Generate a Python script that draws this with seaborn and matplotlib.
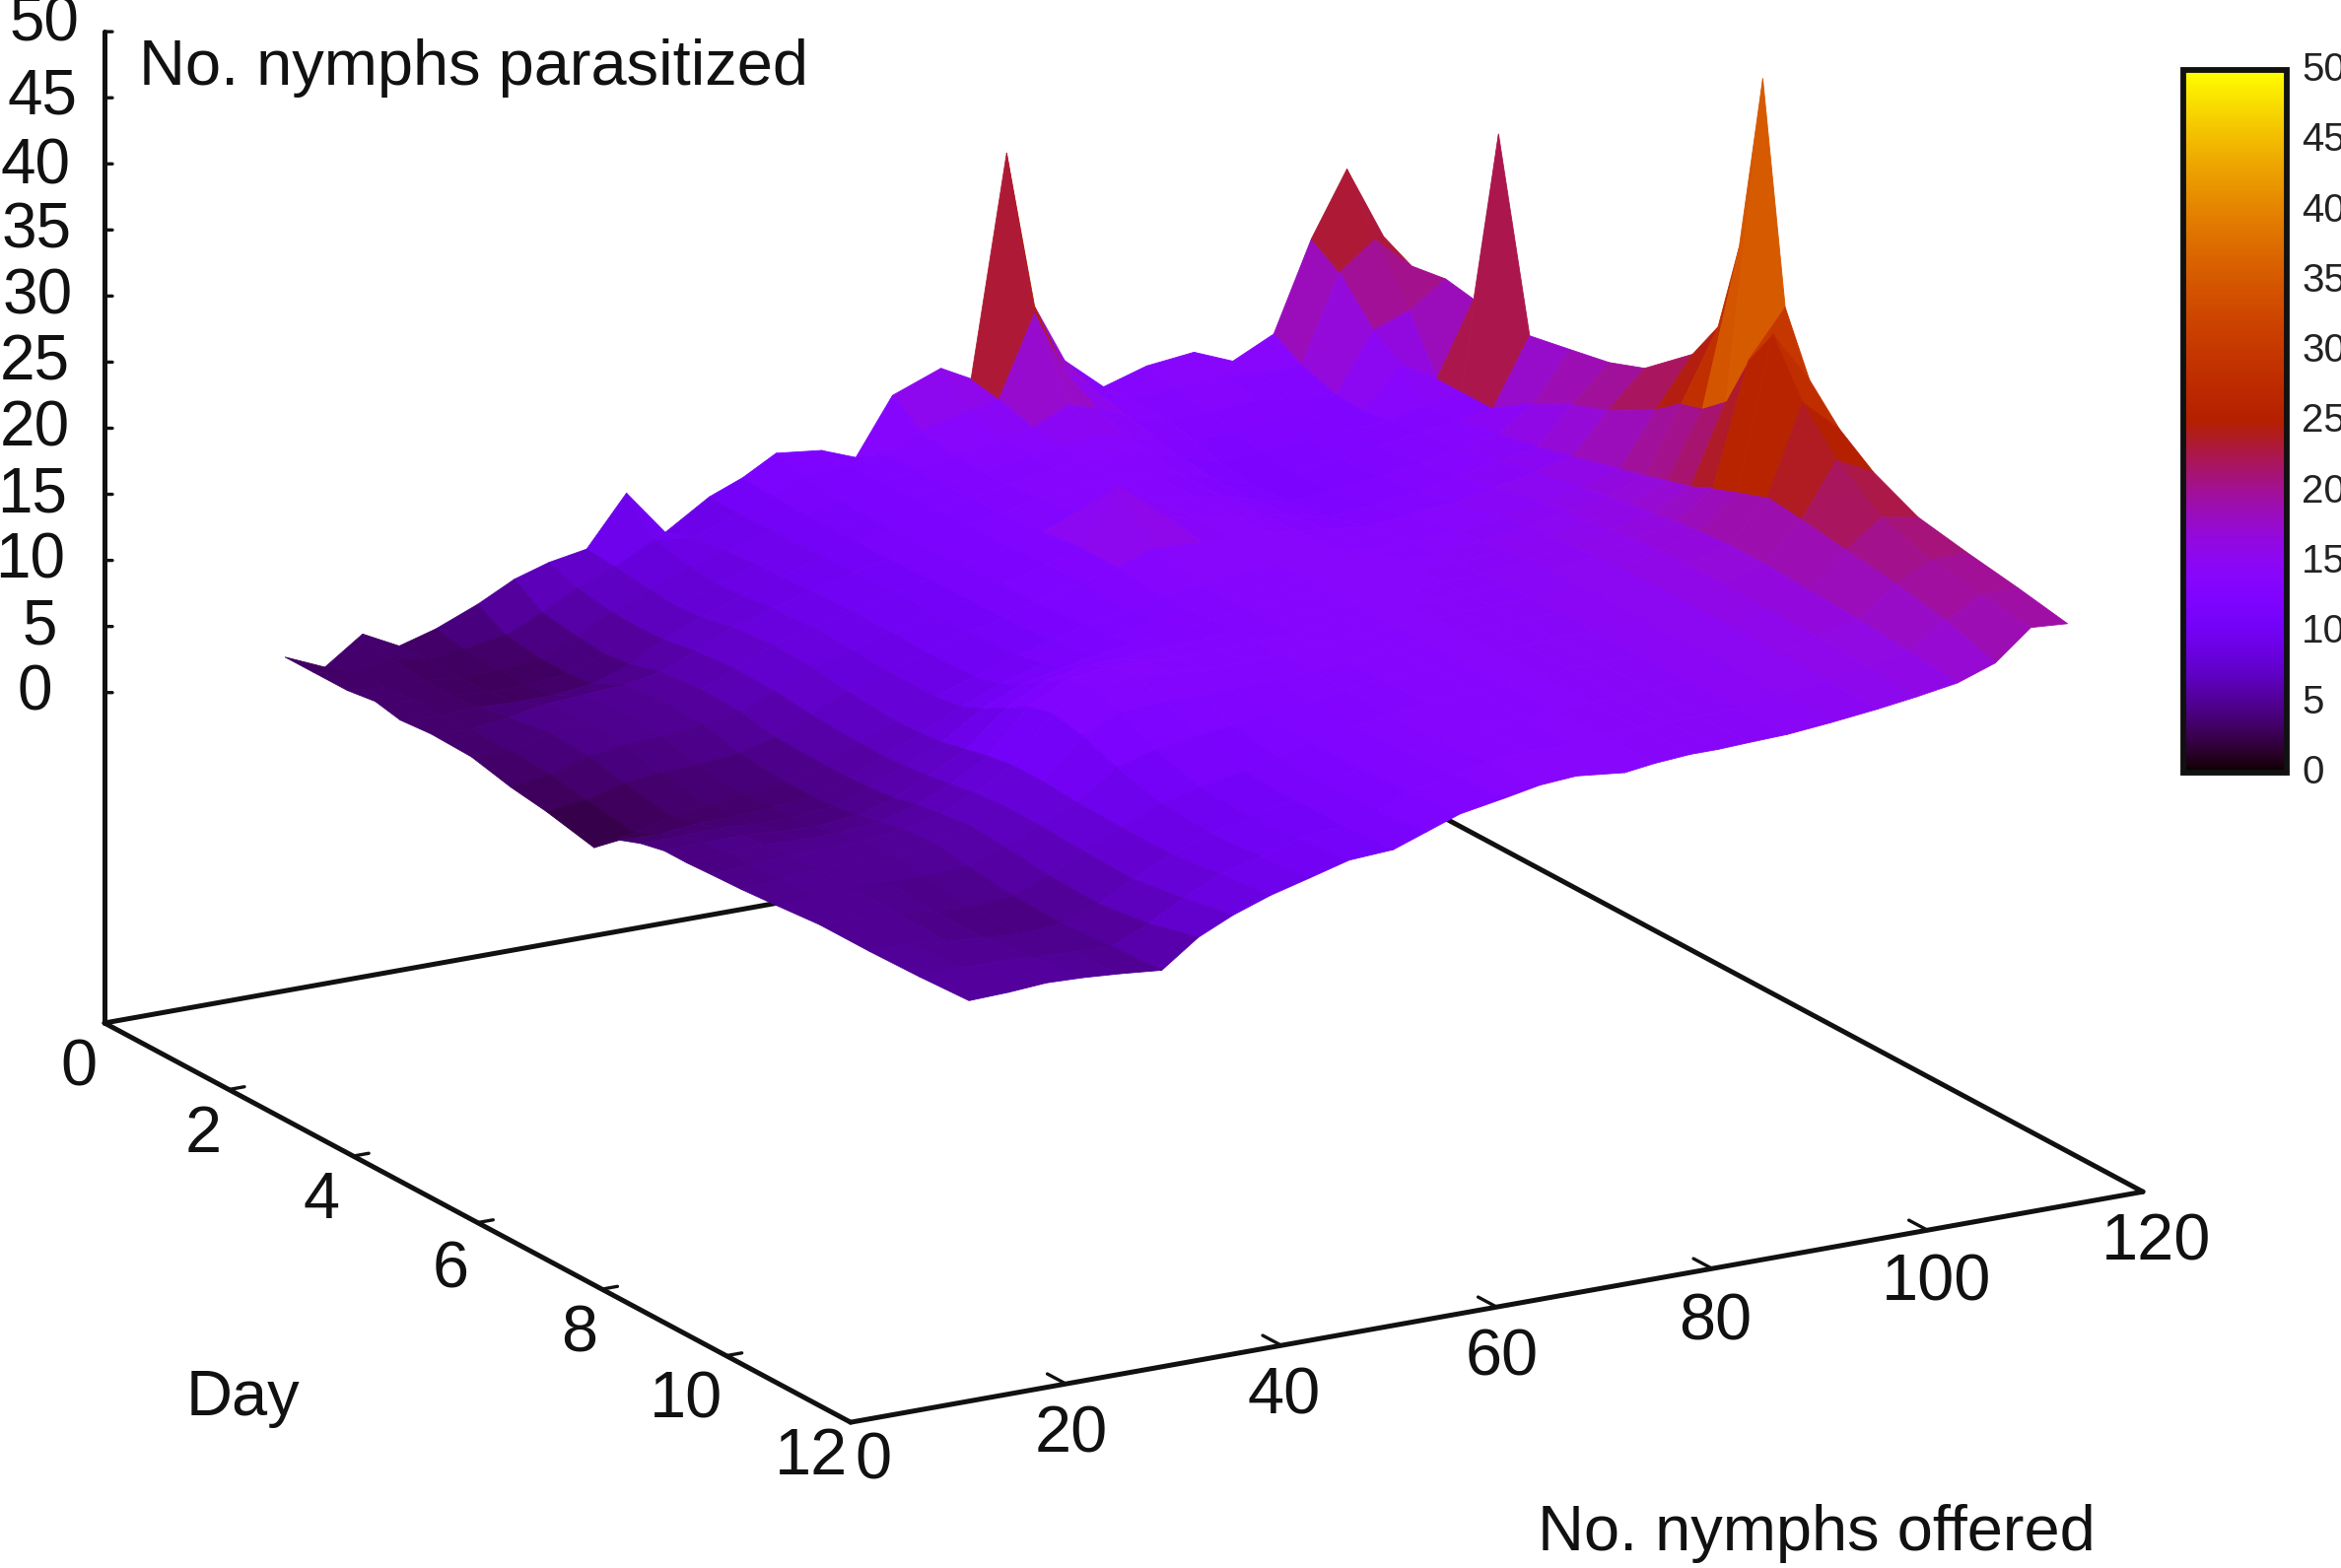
import numpy as np
import matplotlib
matplotlib.use("Agg")
import matplotlib.pyplot as plt
import seaborn as sns
from matplotlib.cm import ScalarMappable
from matplotlib.colors import Normalize
from mpl_toolkits.mplot3d import proj3d

# ---------- data ----------
offered = [11, 14.7, 18.2, 21.6, 25, 28.9, 32.3, 35.5, 39, 42.7, 46.3, 50.4, 53.5, 56.6, 60.8, 64,
           67.4, 71.9, 74.7, 78, 80.6, 83.4, 87, 91, 95.4, 99, 102.8, 106.3, 109.6, 113]
days = [1.0, 1.45, 2.0, 2.45, 2.85, 3.35, 4.0, 4.63, 5.2, 5.97, 6.38, 6.72, 7.1,
        7.46, 7.85, 8.33, 8.88, 9.6, 10.4, 11.2, 12.0]

z_011 = [3.6,3.6,3.6,3.9,3.5,3.7,3.6,2.9,2.5,1.7,3.3,3.9,4.3,4.3,4.4,4.5,4.7,5.0,5.0,5.1,5.3]
z_015 = [2.3,3.0,3.3,3.4,3.3,3.5,3.5,3.3,2.8,2.3,3.2,3.9,4.4,4.5,4.6,4.7,4.8,5.0,5.0,5.2,5.4]
z_018 = [4.3,3.6,3.3,3.3,3.4,3.9,4.4,4.2,3.6,3.0,3.5,4.0,4.4,4.6,4.8,5.0,4.9,4.8,4.7,5.2,5.6]
z_022 = [2.9,3.0,3.0,3.1,3.3,4.4,4.9,4.6,3.9,3.4,3.5,3.8,4.2,4.5,4.8,5.1,4.8,4.5,4.5,5.0,5.5]
z_025 = [3.7,3.3,3.1,3.1,3.3,4.6,5.0,4.7,4.0,3.7,3.7,3.8,4.1,4.5,4.9,5.2,4.8,4.3,4.3,4.9,5.3]
z_029 = [5.0,3.8,3.4,3.4,3.6,4.8,5.2,5.0,4.3,4.0,4.0,4.1,4.4,4.8,5.2,5.4,5.0,4.6,4.5,4.8,5.0]
z_032 = [6.4,5.0,4.6,4.4,4.6,5.3,5.6,5.5,5.0,4.9,4.9,5.0,5.2,5.6,5.9,6.2,6.0,5.6,5.5,6.0,7.0]
z_036 = [7.2,6.4,6.0,5.9,6.0,6.4,6.7,6.6,6.3,6.1,6.1,6.2,6.4,6.7,7.0,7.2,7.2,7.0,6.9,7.5,8.2]
z_039 = [7.7,7.5,7.2,7.0,7.2,7.7,8.0,7.9,7.5,7.2,7.3,7.5,7.9,8.3,8.6,8.6,8.4,8.3,8.3,8.8,9.2]
z_043 = [11.4,9.0,8.4,8.2,8.3,8.6,8.8,8.7,8.5,8.5,8.8,9.5,10.5,11.5,12.0,11.5,10.5,9.6,9.3,9.6,10.0]
z_046 = [7.9,8.6,9.0,9.1,9.2,9.4,9.5,9.5,9.4,9.5,10.0,10.8,12.0,13.0,13.5,12.8,11.3,10.3,10.1,10.4,10.8]
z_050 = [10.0,9.9,10.0,10.0,10.1,10.2,10.3,10.3,10.3,10.5,10.9,11.5,12.6,13.4,13.7,13.0,11.8,10.9,10.7,10.8,11.0]
z_053 = [11.0,10.8,10.7,10.7,10.7,10.8,10.9,10.9,11.0,11.2,11.5,12.0,12.7,13.3,13.5,13.0,12.1,11.5,11.4,11.5,11.9]
z_057 = [12.4,11.8,11.4,11.3,11.3,11.4,11.5,11.6,11.7,11.9,12.1,12.4,12.9,13.2,13.3,13.0,12.5,12.2,12.2,12.5,12.8]
z_061 = [12.0,12.1,12.1,12.1,12.1,12.2,12.3,12.5,12.6,12.5,12.6,12.8,13.0,13.2,13.3,13.2,12.9,12.8,12.8,13.1,13.4]
z_064 = [11.0,12.3,12.6,12.6,12.6,12.7,12.9,13.3,13.2,13.0,13.0,13.1,13.2,13.3,13.4,13.3,13.2,13.2,13.3,13.6,13.9]
z_067 = [15.2,13.6,13.2,13.1,13.1,13.3,14.0,17.5,14.2,13.5,13.4,13.4,13.5,13.5,13.6,13.6,13.6,13.6,13.7,13.9,14.1]
z_072 = [16.6,14.5,13.8,13.7,13.7,13.7,13.9,14.5,14.0,13.8,13.7,13.7,13.7,13.8,13.8,13.8,13.8,13.8,13.8,13.8,13.7]
z_075 = [15.4,15.0,14.2,13.9,13.8,13.7,13.8,14.0,14.0,13.9,13.8,13.8,13.8,13.9,13.9,13.9,13.9,13.9,13.9,14.0,14.0]
z_078 = [32.0,21.0,15.5,14.2,13.9,13.6,13.6,13.8,13.9,14.0,14.0,14.0,14.0,14.0,14.0,14.1,14.1,14.1,14.1,14.2,14.2]
z_081 = [20.0,16.5,14.8,14.0,13.6,13.2,13.2,13.4,13.6,13.9,14.0,14.0,14.0,14.1,14.1,14.2,14.2,14.2,14.2,14.2,14.2]
z_083 = [15.5,14.5,13.8,13.4,12.9,12.6,12.6,12.9,13.3,13.8,13.9,14.0,14.1,14.1,14.2,14.2,14.3,14.3,14.3,14.3,14.3]
z_087 = [13.0,13.2,13.0,12.6,12.0,11.6,11.8,12.3,13.0,13.7,13.9,14.1,14.2,14.3,14.3,14.4,14.4,14.4,14.4,14.4,14.4]
z_091 = [14.0,13.5,13.1,12.7,12.2,11.9,12.1,12.6,13.3,14.0,14.3,14.5,14.6,14.7,14.8,14.9,14.9,14.9,14.9,14.8,14.7]
z_095 = [14.4,13.8,13.3,12.9,12.5,12.3,12.5,13.0,13.6,14.4,14.7,14.9,15.1,15.2,15.3,15.4,15.4,15.4,15.3,15.2,15.1]
z_099 = [13.2,13.4,12.9,12.7,12.6,12.7,13.0,13.6,14.2,15.0,15.3,15.5,15.8,16.0,16.1,16.2,16.2,16.1,16.0,15.8,15.5]
z_103 = [14.7,13.5,12.6,12.5,12.8,13.2,13.6,14.2,14.8,15.6,16.0,16.2,16.5,16.8,17.0,17.2,17.2,17.0,16.8,16.4,16.0]
z_106 = [21.4,20.0,17.0,15.5,13.5,13.5,14.2,14.8,15.5,16.5,17.0,17.5,18.0,18.8,19.5,20.3,20.0,19.5,19.0,18.2,17.0]
z_110 = [26.2,22.0,18.0,14.0,14.0,14.0,16.0,17.5,18.5,20.5,22.0,22.5,24.0,28.0,31.0,27.0,24.0,21.5,20.3,19.7,19.2]
z_113 = [20.6,19.5,19.9,19.5,33.0,19.0,19.6,20.2,21.2,24.2,27.3,34.2,47.9,31.5,27.0,24.5,22.6,21.0,20.3,19.7,19.0]

z_ticks = [0, 5, 10, 15, 20, 25, 30, 35, 40, 45, 50]
day_ticks = [0, 2, 4, 6, 8, 10, 12]
offered_ticks = [0, 20, 40, 60, 80, 100, 120]

# ---------- style ----------
W, H = 2375, 1591
sns.set_theme(style="white")
FONT = "Liberation Sans"
plt.rcParams["font.family"] = [FONT, "DejaVu Sans"]
INK = "#111111"
cmap = sns.color_palette("gnuplot", as_cmap=True)
norm = Normalize(0, 50)

fig = plt.figure(figsize=(W / 100, H / 100), dpi=100, facecolor="white")
ax = fig.add_axes([0, 0, 1, 1], projection="3d", proj_type="ortho", computed_zorder=False)
ax.set_xlim(0, 120)
ax.set_ylim(12, 0)
ax.set_zlim(-25, 50)
ax.set_box_aspect((1513, 1513, 1057))
ax.view_init(elev=18, azim=240)
ax.set_axis_off()


def to_px(o, d, z):
    x2, y2, _ = proj3d.proj_transform(o, d, z, ax.get_proj())
    return ax.transData.transform((x2, y2))


def place(left, bottom, side):
    ax.set_position([left / W, bottom / H, side / W, side / H])
    ax.apply_aspect()


# fit the 3-D box to the reference's frame (corner pixels of the base)
side, left, bottom = 1800.0, 0.0, 0.0
place(left, bottom, side)
a, b = to_px(0, 0, -25), to_px(120, 12, -25)
side *= (2174 - 106) / (b[0] - a[0])
place(left, bottom, side)
a = to_px(0, 0, -25)
left += 106 - a[0]
bottom += (H - 1038) - a[1]
place(left, bottom, side)

# surface
X, Y = np.meshgrid(offered, days, indexing="ij")
Z = np.array([z_011, z_015, z_018, z_022, z_025, z_029, z_032, z_036, z_039, z_043, z_046, z_050,
              z_053, z_057, z_061, z_064, z_067, z_072, z_075, z_078, z_081, z_083, z_087, z_091,
              z_095, z_099, z_103, z_106, z_110, z_113])
corners = np.stack([Z[:-1, :-1], Z[1:, :-1], Z[:-1, 1:], Z[1:, 1:]])
mean_z = corners.mean(axis=0)
facet = mean_z + np.minimum(0.25 * (corners.max(axis=0) - mean_z), 2.5)
ax.plot_surface(X, Y, Z, rstride=1, cstride=1, facecolors=cmap(norm(facet)),
                shade=False, linewidth=0.6, antialiased=True, zorder=3)

# frame
LW = 3.6
for oo, dd in [((0, 120), (0, 0)), ((120, 120), (0, 12)), ((0, 120), (12, 12)), ((0, 0), (0, 12))]:
    ax.plot(oo, dd, (-25, -25), color=INK, lw=LW, zorder=1, solid_capstyle="round")
ax.plot((0, 0), (0, 0), (-25, 50), color=INK, lw=LW, zorder=1)

# ticks
for v in z_ticks:
    ax.plot((0, 0.55), (0, 0.032), (v, v), color=INK, lw=2.4, zorder=1)
for v in day_ticks[1:-1]:
    ax.plot((0, 1.45), (v, v), (-25, -25), color=INK, lw=2.4, zorder=1)
for v in offered_ticks[1:-1]:
    ax.plot((v, v), (12, 11.7), (-25, -25), color=INK, lw=2.4, zorder=1)


def tick_label(o, d, z, txt, dx, dy, size, ha="center"):
    ax.annotate(txt, xy=to_px(o, d, z), xycoords="figure pixels", xytext=(dx, dy),
                textcoords="offset pixels", ha=ha, va="center", fontsize=size,
                color=INK, annotation_clip=False)


z_right = [53, 58, 66, 68, 71, 71, 74, 73, 72, 78, 80]
z_dy = [-1, -1, -1, -1, -1, -1, -1, -1, -3, 1, 8]
for v, r, dy in zip(z_ticks, z_right, z_dy):
    tick_label(0, 0, v, str(v), r - 106, dy, 46, ha="right")

day_dx = [-26, -26, -32, -27, -23, -41, -40]
day_dy = [-46, -46, -46, -49, -46, -46, -36]
for v, dx, dy in zip(day_ticks, day_dx, day_dy):
    tick_label(0, v, -25, str(v), dx, dy, 48)

off_dx = [23, 5, 3, 5, 3, 9, 14]
off_dy = [-40, -52, -52, -52, -55, -54, -52]
for v, dx, dy in zip(offered_ticks, off_dx, off_dy):
    tick_label(v, 12, -25, str(v), dx, dy, 48)

# axis titles
for txt, px, py in [("No. nymphs parasitized", 141, 86), ("Day", 189, 1436),
                    ("No. nymphs offered", 1560, 1573)]:
    fig.text(px / W, 1 - py / H, txt, fontsize=46.8, color=INK, ha="left", va="baseline")

# colour box
cax = fig.add_axes([2215 / W, 1 - 784 / H, 105 / W, 713 / H])
cb = fig.colorbar(ScalarMappable(norm=norm, cmap=cmap), cax=cax, ticks=z_ticks)
cb.outline.set_linewidth(4.2)
cb.outline.set_edgecolor(INK)
cax.tick_params(axis="y", which="both", direction="in", left=True, right=True, length=8,
                width=2.2, color=INK, labelsize=29, labelcolor="#222222", pad=11)
for lab in cax.get_yticklabels():
    lab.set_verticalalignment("center")

fig.savefig("out.png", dpi=100, facecolor="white")
